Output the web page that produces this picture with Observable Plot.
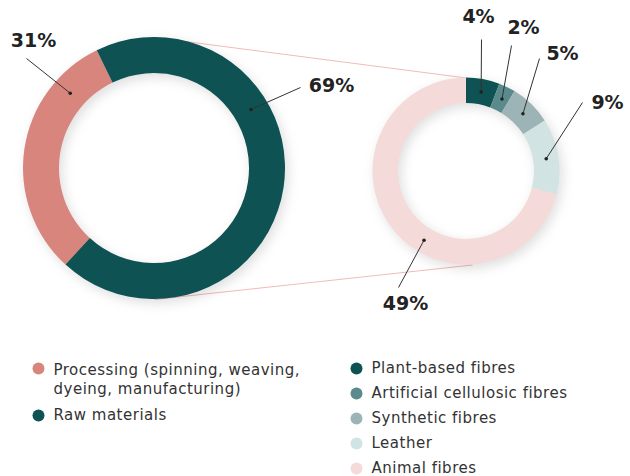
<!DOCTYPE html>
<html>
<head>
<meta charset="utf-8">
<script src="https://cdn.jsdelivr.net/npm/d3@7"></script>
<script src="https://cdn.jsdelivr.net/npm/@observablehq/plot@0.6"></script>
<style>
  html, body { margin: 0; padding: 0; background: #fff; }
  #chart svg { display: block; }
  .legend-label text { letter-spacing: 0.5px; }
</style>
</head>
<body>
<div id="chart"></div>
<script>
// Share of the footprint by stage, and the raw-material share split by fibre type
const stageCategories = ["Processing (spinning, weaving, dyeing, manufacturing)", "Raw materials"];
const stageValues = [31, 69];
const stageColors = ["#d8867d", "#0e5254"];

const fibreCategories = ["Plant-based fibres", "Artificial cellulosic fibres", "Synthetic fibres", "Leather", "Animal fibres"];
const fibreValues = [4, 2, 5, 9, 49];
const fibreColors = ["#0e5254", "#5a8a8c", "#9db4b6", "#d1e3e3", "#f4dad8"];

// Page geometry
const W = 630, H = 476;
const FONT = "DejaVu Sans";
const stageRing = {cx: 154, cy: 168, inner: 95, outer: 131, start: -2.4};
const fibreRing = {cx: 466, cy: 171, inner: 68, outer: 93.5, start: 0};

// Where each value label sits, where its leader starts, and how far along its slice the leader lands
const stageLabelLayout = [
  {x: 33, y: 40, lx: 26, ly: 58, t: 0.8},
  {x: 331, y: 85, lx: 300, ly: 87, t: 0.34}
];
const fibreLabelLayout = [
  {x: 478, y: 16, lx: 481, ly: 39, t: 0.5},
  {x: 523, y: 27, lx: 511, ly: 45, t: 0.5},
  {x: 562, y: 53, lx: 539, ly: 58, t: 0.5},
  {x: 607, y: 102, lx: 582, ly: 102, t: 0.5},
  {x: 405, y: 303, lx: 398, ly: 287, t: 0.42}
];

function slices(categories, values, ring) {
  const arcs = d3.pie().sort(null).startAngle(ring.start).endAngle(ring.start + 2 * Math.PI)(values);
  return arcs.map((a, i) => ({category: categories[i], value: values[i], start: a.startAngle, end: a.endAngle, ring}));
}

function ringPoint(s, t) {
  const a = s.start + (s.end - s.start) * t;
  const r = (s.ring.inner + s.ring.outer) / 2;
  return [s.ring.cx + r * Math.sin(a), s.ring.cy - r * Math.cos(a)];
}

const stageSlices = slices(stageCategories, stageValues, stageRing);
const fibreSlices = slices(fibreCategories, fibreValues, fibreRing);

const leaders = [
  ...stageSlices.map((s, i) => ({s, L: stageLabelLayout[i]})),
  ...fibreSlices.map((s, i) => ({s, L: fibreLabelLayout[i]}))
].map(({s, L}) => {
  const [ex, ey] = ringPoint(s, L.t);
  return {label: `${s.value}%`, x: L.x, y: L.y, x1: L.lx, y1: L.ly, x2: ex, y2: ey};
});

// Thin guides linking the raw-materials ring to its breakdown
const guides = [
  {x1: stageRing.cx, y1: stageRing.cy - stageRing.outer, x2: fibreRing.cx, y2: fibreRing.cy - fibreRing.outer},
  {x1: stageRing.cx, y1: stageRing.cy + stageRing.outer, x2: fibreRing.cx + 6, y2: fibreRing.cy + fibreRing.outer}
];

// Legend rows
const stageLegend = [
  {category: stageCategories[0], x: 38, y: 368},
  {category: stageCategories[1], x: 38, y: 415}
];
const fibreLegend = fibreCategories.map((c, i) => ({category: c, x: 356, y: 368 + i * 25}));
const legendRows = [...stageLegend, ...fibreLegend];

function ringMark(sl) {
  return (index, scales) => {
    const ring = sl[0].ring;
    const arc = d3.arc()
      .innerRadius(ring.inner).outerRadius(ring.outer)
      .startAngle(d => d.start).endAngle(d => d.end);
    const g = d3.create("svg:g")
      .attr("transform", `translate(${scales.x(ring.cx)},${scales.y(ring.cy)})`)
      .style("filter", "drop-shadow(3px 4px 6px rgba(0,0,0,0.13))");
    g.selectAll("path").data(sl).join("path")
      .attr("d", arc)
      .attr("fill", d => scales.color(d.category));
    return g.node();
  };
}

const chart = Plot.plot({
  width: W,
  height: H,
  margin: 0,
  style: {fontFamily: FONT, background: "#fff"},
  x: {domain: [0, W], range: [0, W], axis: null},
  y: {domain: [0, H], range: [0, H], axis: null},
  color: {domain: [...stageCategories, ...fibreCategories], range: [...stageColors, ...fibreColors]},
  marks: [
    Plot.link(guides, {x1: "x1", y1: "y1", x2: "x2", y2: "y2", stroke: "#f0bcb6", strokeWidth: 1}),
    ringMark(stageSlices),
    ringMark(fibreSlices),
    Plot.link(leaders, {x1: "x1", y1: "y1", x2: "x2", y2: "y2", stroke: "#333", strokeWidth: 1}),
    Plot.dot(leaders, {x: "x2", y: "y2", r: 1.8, fill: "#222"}),
    Plot.text(leaders, {x: "x", y: "y", text: "label", fontSize: 19, fontWeight: "bold", fill: "#222", textAnchor: "middle", lineAnchor: "middle"}),
    Plot.dot(legendRows, {x: "x", y: "y", r: 6, fill: "category"}),
    Plot.text([stageLegend[0]], {x: d => d.x + 15, y: d => d.y - 7, text: "category", fontSize: 15, fill: "#333", textAnchor: "start", lineAnchor: "top", lineWidth: 17, lineHeight: 1.25, className: "legend-label"}),
    Plot.text([stageLegend[1], ...fibreLegend], {x: d => d.x + 15, y: "y", text: "category", fontSize: 15, fill: "#333", textAnchor: "start", lineAnchor: "middle", className: "legend-label"})
  ]
});

document.getElementById("chart").append(chart);
</script>
</body>
</html>
